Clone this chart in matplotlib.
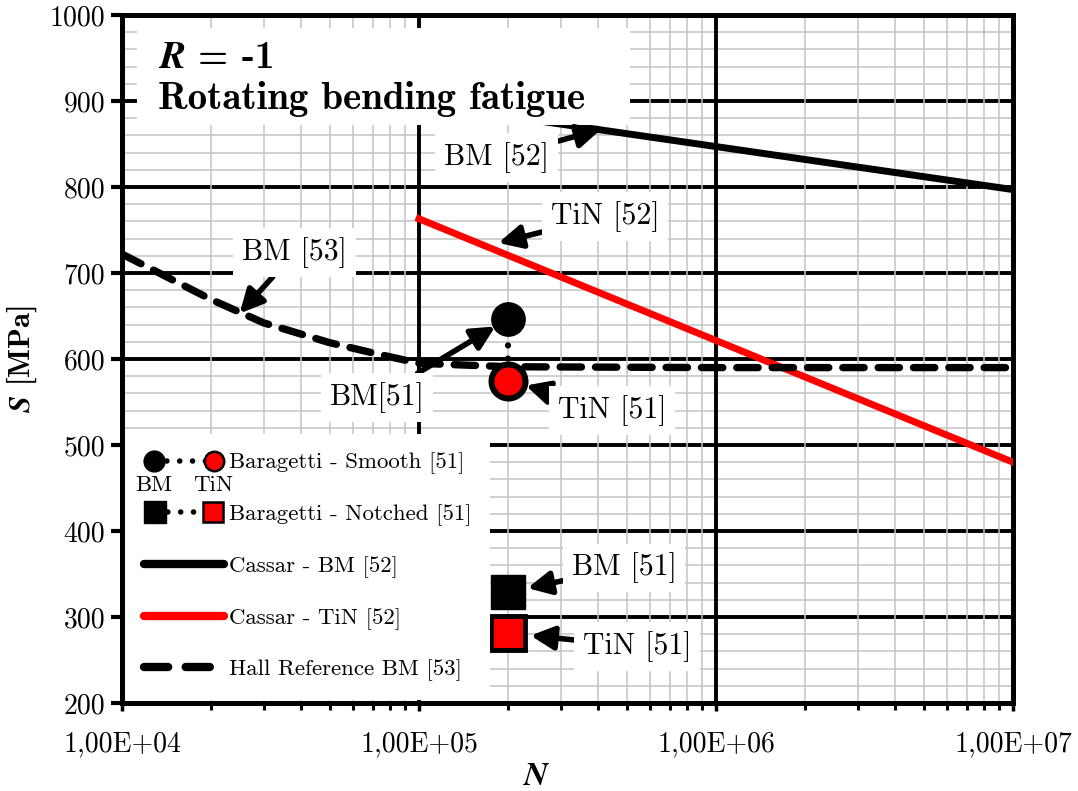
import numpy as np
import matplotlib
matplotlib.use('Agg')
import matplotlib.pyplot as plt
from matplotlib.lines import Line2D
from matplotlib.text import Text
from matplotlib.patches import Rectangle
from matplotlib.legend_handler import HandlerBase
from matplotlib.ticker import LogLocator, MultipleLocator, FuncFormatter, NullFormatter

plt.rcParams['font.family'] = 'cmr10'
plt.rcParams['mathtext.fontset'] = 'custom'
plt.rcParams['mathtext.rm'] = 'cmr10'
plt.rcParams['mathtext.bf'] = 'cmb10'
plt.rcParams['mathtext.bfit'] = 'STIXGeneral:italic:bold'
plt.rcParams['axes.unicode_minus'] = False

# S-N data
cassar_bm_n = [1e5, 1e7]
cassar_bm_s = [897, 797]
cassar_tin_n = [1e5, 1e7]
cassar_tin_s = [763, 480]
hall_n = [1e4, 2e4, 3e4, 5e4, 7e4, 1e5, 2e5, 1e6, 1e7]
hall_s = [722, 669, 642, 619, 607, 595, 591, 590, 590]
smooth_n = [2e5, 2e5]      # BM, TiN
smooth_s = [647, 575]
notched_n = [2e5, 2e5]     # BM, TiN
notched_s = [329, 281]

labels = ['Baragetti - Smooth [51]', 'Baragetti - Notched [51]',
          'Cassar - BM [52]', 'Cassar - TiN [52]', 'Hall Reference BM [53]']

fig = plt.figure(figsize=(10.78, 7.91), dpi=100)
ax = fig.add_axes([122 / 1078, 88 / 791, 891 / 1078, 688 / 791])
ax.set_xscale('log')
ax.set_xlim(1e4, 1e7)
ax.set_ylim(200, 1000)

ax.xaxis.set_major_locator(LogLocator(base=10))
ax.xaxis.set_minor_locator(LogLocator(base=10, subs=np.arange(2, 10)))
ax.xaxis.set_minor_formatter(NullFormatter())
ax.xaxis.set_major_formatter(FuncFormatter(lambda v, p: ('%.2E' % v).replace('.', ',')))
ax.yaxis.set_major_locator(MultipleLocator(100))
ax.yaxis.set_minor_locator(MultipleLocator(20))

# grid: gray minor, black major; vertical lines drawn over horizontal ones
ax.set_axisbelow(True)
ax.grid(axis='y', which='minor', color='#c4c4c4', lw=1.1)
ax.grid(axis='y', which='major', color='black', lw=2.8)
for v in ax.xaxis.get_minorticklocs():
    ax.axvline(v, color='#c4c4c4', lw=1.1, zorder=0.6)
for v in ax.get_xticks():
    ax.axvline(v, color='black', lw=2.8, zorder=0.7)

for s in ax.spines.values():
    s.set_linewidth(3.6)
ax.tick_params(axis='x', which='major', direction='out', length=6, width=2.5, pad=14, labelsize=20)
ax.tick_params(axis='x', which='minor', direction='out', length=5, width=2.2)
ax.tick_params(axis='y', which='major', direction='out', length=8, width=3, pad=4, labelsize=20)
ax.tick_params(axis='y', which='minor', length=0)

# curves
ax.plot(cassar_bm_n, cassar_bm_s, color='black', lw=5, zorder=3)
ax.plot(cassar_tin_n, cassar_tin_s, color='red', lw=5, zorder=3)
ax.plot(hall_n, hall_s, color='black', lw=5.3, dashes=(2.9, 1.9), dash_capstyle='round', zorder=3)

# Baragetti points
ax.plot(smooth_n, smooth_s, color='black', lw=4.5, linestyle=(0, (0.01, 2.1)), dash_capstyle='round', zorder=4)
ax.plot(smooth_n[:1], smooth_s[:1], 'o', ms=24, color='black', zorder=5)
ax.plot(smooth_n[1:], smooth_s[1:], 'o', ms=24.5, mfc='red', mec='black', mew=4.3, zorder=5)
ax.plot(notched_n[:1], notched_s[:1], 's', ms=25, color='black', zorder=5)
ax.plot(notched_n[1:], notched_s[1:], 's', ms=25, mfc='red', mec='black', mew=3.5, zorder=6)

box = dict(boxstyle='square,pad=0.3', fc='white', ec='none')
arrow = dict(arrowstyle='-|>,head_length=0.7,head_width=0.35', lw=4, color='black',
             mutation_scale=20, shrinkA=0)

notes = [
    ('BM [52]', (4.1e5, 867), (1.83e5, 834), 0),
    ('TiN [52]', (1.85e5, 735), (4.23e5, 766), 0),
    ('BM [53]', (2.49e4, 653), (3.82e4, 724), 0),
    ('BM[51]', (smooth_n[0], smooth_s[0]), (7.22e4, 555), 11),
    ('TiN [51]', (smooth_n[1], smooth_s[1]), (4.47e5, 540), 13),
    ('BM [51]', (notched_n[0], notched_s[0]), (4.9e5, 357), 14),
    ('TiN [51]', (notched_n[1], notched_s[1]), (5.42e5, 266), 16),
]
for txt, xy, xyt, sh in notes:
    ap = dict(arrow, shrinkB=sh)
    ax.annotate(txt, xy=xy, xytext=xyt, fontsize=21.5, ha='center', va='center',
                bbox=box, arrowprops=ap, zorder=7)

# title block
ax.add_patch(Rectangle((0.0168, 0.840), 0.553, 0.141, transform=ax.transAxes,
                       fc='white', ec='none', zorder=6))
ax.text(0.040, 0.907, r'$\mathbfit{R}$ = -1' + '\nRotating bending fatigue',
        transform=ax.transAxes, fontfamily='cmb10', fontsize=28, ha='left', va='center',
        linespacing=1.17, zorder=6.5)

ax.set_xlabel(r'$\mathbfit{N}$', fontsize=24, labelpad=4)
ax.xaxis.set_label_coords(0.466, -0.085)
ax.set_ylabel(r'$\mathbfit{S}$ [MPa]', fontsize=22, fontfamily='cmb10', labelpad=8)


class PairHandler(HandlerBase):
    def __init__(self, marker, ms, tags=None):
        super().__init__()
        self.marker = marker
        self.ms = ms
        self.tags = tags

    def create_artists(self, legend, orig_handle, xdescent, ydescent, width, height, fontsize, trans):
        y = height / 2 - ydescent
        x0 = -xdescent + self.ms / 2
        x1 = -xdescent + width - self.ms / 2
        dots = Line2D([x0, x1], [y, y], color='black', lw=4, linestyle=(0, (0.01, 2.3)),
                      dash_capstyle='round', transform=trans)
        m0 = Line2D([x0], [y], marker=self.marker, ms=self.ms, color='black', ls='none', transform=trans)
        m1 = Line2D([x1], [y], marker=self.marker, ms=self.ms - 1, mfc='red', mec='black', mew=1.8,
                    ls='none', transform=trans)
        arts = [dots, m0, m1]
        if self.tags:
            for xx, t in zip([x0, x1], self.tags):
                arts.append(Text(xx, y - 18, t, ha='center', va='center', fontsize=fontsize,
                                 fontfamily='cmr10', transform=trans))
        return arts


h_smooth = Line2D([], [])
h_notch = Line2D([], [], ls='--')
h_bm = Line2D([], [], color='black', lw=6, solid_capstyle='round')
h_tin = Line2D([], [], color='red', lw=6, solid_capstyle='round')
h_hall = Line2D([], [], color='black', lw=6, dashes=(2.9, 2.1), dash_capstyle='round')
leg = ax.legend([h_smooth, h_notch, h_bm, h_tin, h_hall], labels,
                handler_map={h_smooth: PairHandler('o', 15, ('BM', 'TiN')), h_notch: PairHandler('s', 16)},
                loc='lower left', borderaxespad=0.15, fontsize=16.5, handlelength=3.5,
                handletextpad=0.2, labelspacing=1.3, borderpad=0.8, fancybox=False,
                framealpha=1, facecolor='white', edgecolor='none')
leg.set_zorder(8)

fig.savefig('out.png', dpi=100)
